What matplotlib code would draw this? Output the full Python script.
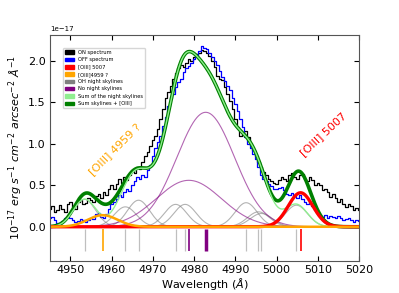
import numpy as np
import matplotlib
matplotlib.use("Agg")
import matplotlib.pyplot as plt
from matplotlib.patches import Patch

SCALE = 1e-17

# ON / OFF spectra, sampled every 0.625 A (units of 1e-17)
wave = np.arange(4945.0, 5020.01, 0.625)
on_flux = [0.22, 0.25, 0.18, 0.20, 0.26, 0.22, 0.18, 0.27, 0.30, 0.24,
           0.22, 0.30, 0.32, 0.27, 0.29, 0.35, 0.32, 0.30, 0.37, 0.40,
           0.35, 0.42, 0.38, 0.45, 0.50, 0.46, 0.52, 0.57, 0.53, 0.60,
           0.56, 0.63, 0.68, 0.65, 0.72, 0.70, 0.78, 0.85, 0.90, 0.97,
           1.05, 1.10, 1.18, 1.30, 1.42, 1.55, 1.62, 1.70, 1.78, 1.85,
           1.92, 1.95, 1.93, 1.98, 2.02, 2.00, 2.05, 2.08, 2.10, 2.13,
           2.12, 2.10, 2.06, 2.00, 1.93, 1.82, 1.78, 1.77, 1.68, 1.60,
           1.52, 1.42, 1.30, 1.20, 1.10, 1.12, 1.16, 1.08, 0.98, 0.92,
           0.85, 0.78, 0.72, 0.66, 0.62, 0.58, 0.55, 0.53, 0.52, 0.56,
           0.60, 0.57, 0.55, 0.62, 0.65, 0.60, 0.58, 0.62, 0.64, 0.58,
           0.55, 0.60, 0.56, 0.50, 0.53, 0.50, 0.44, 0.46, 0.42, 0.36,
           0.40, 0.35, 0.30, 0.33, 0.28, 0.24, 0.28, 0.25, 0.20, 0.23,
           0.20]
off_flux = [0.10, 0.12, 0.08, 0.05, 0.05, 0.07, 0.10, 0.12, 0.11, 0.08,
            0.06, 0.07, 0.09, 0.08, 0.06, 0.08, 0.10, 0.09, 0.15, 0.17,
            0.12, 0.10, 0.15, 0.22, 0.28, 0.30, 0.34, 0.38, 0.36, 0.42,
            0.45, 0.43, 0.50, 0.55, 0.60, 0.58, 0.62, 0.60, 0.68, 0.75,
            0.85, 0.95, 1.02, 1.10, 1.22, 1.32, 1.45, 1.55, 1.60, 1.68,
            1.75, 1.78, 1.86, 1.92, 1.94, 1.98, 2.02, 2.06, 2.12, 2.18,
            2.16, 2.14, 2.10, 2.05, 2.00, 1.95, 1.88, 1.80, 1.76, 1.70,
            1.65, 1.55, 1.48, 1.40, 1.30, 1.20, 1.08, 1.00, 0.95, 0.88,
            0.82, 0.72, 0.63, 0.58, 0.55, 0.52, 0.49, 0.46, 0.45, 0.47,
            0.48, 0.44, 0.40, 0.38, 0.41, 0.37, 0.35, 0.38, 0.33, 0.30,
            0.28, 0.30, 0.25, 0.20, 0.15, 0.13, 0.12, 0.14, 0.11, 0.13,
            0.12, 0.10, 0.13, 0.11, 0.08, 0.09, 0.11, 0.08, 0.06, 0.08,
            0.07]

# fitted gaussian components: centre, amplitude, sigma
oh_center = [4953.4, 4963.3, 4966.5, 4975.5, 4977.8, 4992.6, 4995.6, 4996.3, 5004.8]
oh_amp = [0.33, 0.24, 0.32, 0.27, 0.27, 0.29, 0.18, 0.16, 0.26]
oh_sigma = 2.7
nosky_center = [4978.7, 4982.8]
nosky_amp = [0.56, 1.38]
nosky_sigma = [7.9, 7.0]
o5007 = (5005.8, 0.41, 3.0)
o4959 = (4957.8, 0.14, 3.6)


def gauss(x, c, a, s):
    return a * np.exp(-(x - c) ** 2 / (2 * s ** 2))


x = np.linspace(4945, 5020, 800)
oh_curves = [gauss(x, c, a, oh_sigma) for c, a in zip(oh_center, oh_amp)]
nosky_curves = [gauss(x, c, a, s) for c, a, s in zip(nosky_center, nosky_amp, nosky_sigma)]
red = gauss(x, *o5007)
orange = gauss(x, *o4959)
sky_sum = np.sum(oh_curves, axis=0) + np.sum(nosky_curves, axis=0)
total = sky_sum + red + orange

fig, ax = plt.subplots(figsize=(3.99, 2.93), dpi=100)

ax.plot(wave, np.array(on_flux) * SCALE, drawstyle="steps-mid", color="k", lw=0.9)
ax.plot(wave, np.array(off_flux) * SCALE, drawstyle="steps-mid", color="blue", lw=0.9)

for y in oh_curves:
    ax.plot(x, y * SCALE, color="gray", lw=0.8, alpha=0.6)
for y in nosky_curves:
    ax.plot(x, y * SCALE, color="purple", lw=0.8, alpha=0.6)

ax.plot(x, total * SCALE, color="green", lw=2.6)
ax.plot(x, sky_sum * SCALE, color="lightgreen", lw=1.0)
ax.plot(x, red * SCALE, color="red", lw=2.4)
ax.plot(x, orange * SCALE, color="orange", lw=1.8)

# line positions below zero
lo, hi = -0.29 * SCALE, -0.03 * SCALE
ax.vlines(oh_center, lo, hi, color="gray", lw=0.9, alpha=0.5)
ax.vlines(nosky_center[0], lo, hi, color="purple", lw=1.2)
ax.vlines(nosky_center[1], lo, hi, color="purple", lw=2.5)
ax.vlines(o5007[0], lo, hi, color="red", lw=1.2)
ax.vlines(o4959[0], lo, hi, color="orange", lw=1.2)

ax.text(4960.85, 0.93 * SCALE, "[OIII] 4959 ?", color="orange", fontsize=8,
        rotation=45, ha="center", va="center")
ax.text(5011.3, 1.11 * SCALE, "[OIII] 5007", color="red", fontsize=8,
        rotation=43, ha="center", va="center")

ax.set_xlim(4945, 5020)
ax.set_ylim(-0.41 * SCALE, 2.31 * SCALE)
ax.set_xticks(np.arange(4950, 5021, 10))
ax.set_yticks(np.arange(0, 2.01, 0.5) * SCALE)
ax.tick_params(direction="in", top=True, right=True, labelsize=8, pad=3)
ax.yaxis.get_offset_text().set_fontsize(5)
for sp in ax.spines.values():
    sp.set_color("#555555")

ax.set_xlabel(r"Wavelength ($\AA$)", fontsize=8, labelpad=1)
ax.set_ylabel(r"$10^{-17}\ erg\ s^{-1}\ cm^{-2}\ arcsec^{-2}\ \AA^{-1}$", fontsize=8, labelpad=2)

handles = [Patch(color="k"), Patch(color="blue"), Patch(color="red"),
           Patch(color="orange"), Patch(color="gray"), Patch(color="purple"),
           Patch(color="lightgreen"), Patch(color="green")]
labels = ["ON spectrum", "OFF spectrum", "[OIII] 5007", "[OIII]4959 ?",
          "OH night skylines", "No night skylines", "Sum of the night skylines",
          "Sum skylines + [OIII]"]
ax.legend(handles, labels, loc="upper left", bbox_to_anchor=(0.035, 0.955),
          fontsize=3.7, handlelength=1.6, labelspacing=0.45)

fig.savefig("out.png", dpi=100)
